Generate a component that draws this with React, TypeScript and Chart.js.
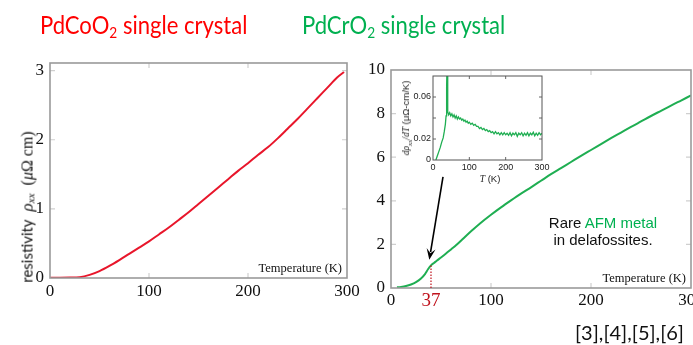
import React, { useEffect, useRef } from "react";
import { Chart, registerables } from "chart.js";

Chart.register(...registerables);

// ---------------- data ----------------
// PdCoO2 resistivity (μΩ cm) vs temperature (K)
const CO_T = [0, 10, 20, 30, 40, 50, 60, 70, 80, 90, 100, 110, 120, 130, 140, 150, 160, 170, 180, 190, 200, 210, 220, 230, 240, 250, 260, 270, 280, 290, 297];
const CO_RHO = [0.005, 0.005, 0.006, 0.012, 0.045, 0.1, 0.175, 0.26, 0.35, 0.44, 0.53, 0.63, 0.73, 0.84, 0.95, 1.07, 1.19, 1.31, 1.43, 1.55, 1.66, 1.78, 1.89, 2.02, 2.16, 2.3, 2.45, 2.6, 2.75, 2.9, 2.98];

// PdCrO2 resistivity (μΩ cm) vs temperature (K)
const CR_T = [6, 10, 15, 20, 25, 30, 34, 37, 40, 43, 46, 50, 55, 60, 65, 70, 76, 82, 89, 100, 110, 120, 130, 140, 150, 160, 170, 180, 190, 200, 210, 220, 230, 240, 250, 260, 270, 280, 290, 300];
const CR_RHO = [0.03, 0.05, 0.09, 0.16, 0.27, 0.44, 0.64, 0.86, 1.04, 1.15, 1.26, 1.4, 1.58, 1.77, 1.96, 2.17, 2.43, 2.68, 2.96, 3.36, 3.7, 4.02, 4.33, 4.62, 4.92, 5.22, 5.5, 5.78, 6.06, 6.33, 6.6, 6.87, 7.13, 7.39, 7.64, 7.89, 8.13, 8.37, 8.6, 8.83];

// inset: dρxx/dT (μΩ-cm/K) vs T (K)
const INSET_T = [8, 12, 16, 20, 24, 28, 31, 34, 36, 37, 38, 39, 40, 41, 43, 46, 49, 52, 55, 58, 61, 64, 67, 70, 73, 76, 79, 82, 85, 88, 91, 94, 97, 100, 104, 108, 112, 116, 120, 124, 128, 132, 136, 140, 144, 148, 152, 156, 160, 164, 168, 172, 176, 180, 184, 188, 192, 196, 200, 204, 208, 212, 216, 220, 224, 228, 232, 236, 240, 244, 248, 252, 256, 260, 264, 268, 272, 276, 280, 284, 288, 292, 296, 300];
const INSET_DRHO = [0, 0.004, 0.008, 0.012, 0.017, 0.021, 0.027, 0.034, 0.042, 0.05, 0.07, 0.1, 0.06, 0.046, 0.043, 0.045, 0.042, 0.044, 0.041, 0.043, 0.04, 0.042, 0.039, 0.041, 0.039, 0.04, 0.038, 0.039, 0.037, 0.038, 0.036, 0.037, 0.035, 0.036, 0.034, 0.035, 0.033, 0.034, 0.032, 0.032, 0.03, 0.031, 0.029, 0.03, 0.028, 0.029, 0.027, 0.028, 0.026, 0.027, 0.025, 0.027, 0.025, 0.026, 0.024, 0.026, 0.024, 0.026, 0.024, 0.0255, 0.0235, 0.026, 0.023, 0.0255, 0.024, 0.026, 0.0225, 0.0255, 0.024, 0.026, 0.023, 0.0255, 0.0235, 0.026, 0.023, 0.0255, 0.024, 0.0265, 0.023, 0.0255, 0.0235, 0.026, 0.024, 0.0255];

const MAIN_X_TICKS = [0, 100, 200, 300];
const CO_Y_TICKS = [0, 1, 2, 3];
const CR_Y_TICKS = [0, 2, 4, 6, 8, 10];
const INSET_X_TICKS = [0, 100, 200, 300];
const INSET_Y_TICKS = [0, 0.02, 0.04, 0.06, 0.08];
const INSET_Y_LABELED = [0, 0.02, 0.06];

const TN_LABEL = "37";
const TN_MARK_T = 40;
const TN_MARK_RHO = 1.05;
const ARROW_FROM = [52, 5.1];
const ARROW_TO = [38.3, 1.3];

// ---------------- styles ----------------
const RED = "#e8162b";
const GREEN = "#1fae52";
const TITLE_RED = "#ff0000";
const TITLE_GREEN = "#00b050";
const DARKRED = "#c0121c";
const SERIF = "'Liberation Serif', 'DejaVu Serif', serif";
const SANS = "'Liberation Sans', Arial, sans-serif";

function framePlugin(cfg: { color: string; width: number; tickColor: string; tickLen: number; tickWidth: number }) {
  return {
    id: "frame",
    afterDatasetsDraw(chart: any) {
      const { ctx, chartArea: a, scales } = chart;
      const xs = scales.x;
      const ys = scales.y;
      ctx.save();
      ctx.strokeStyle = cfg.tickColor;
      ctx.lineWidth = cfg.tickWidth;
      ctx.beginPath();
      for (const t of xs.ticks) {
        const px = xs.getPixelForValue(t.value);
        if (px <= a.left + 1 || px >= a.right - 1) continue;
        ctx.moveTo(px, a.bottom);
        ctx.lineTo(px, a.bottom - cfg.tickLen);
        ctx.moveTo(px, a.top);
        ctx.lineTo(px, a.top + cfg.tickLen);
      }
      for (const t of ys.ticks) {
        const py = ys.getPixelForValue(t.value);
        if (py <= a.top + 1 || py >= a.bottom - 1) continue;
        ctx.moveTo(a.left, py);
        ctx.lineTo(a.left + cfg.tickLen, py);
        ctx.moveTo(a.right, py);
        ctx.lineTo(a.right - cfg.tickLen, py);
      }
      ctx.stroke();
      ctx.strokeStyle = cfg.color;
      ctx.lineWidth = cfg.width;
      ctx.strokeRect(a.left, a.top, a.right - a.left, a.bottom - a.top);
      ctx.restore();
    },
  };
}

function cornerLabelPlugin(text: string) {
  return {
    id: "cornerLabel",
    afterDraw(chart: any) {
      const { ctx, chartArea: a } = chart;
      ctx.save();
      ctx.font = `12.5px ${SERIF}`;
      ctx.fillStyle = "#111";
      ctx.textAlign = "right";
      ctx.textBaseline = "alphabetic";
      ctx.fillText(text, a.right - 5, a.bottom - 6);
      ctx.restore();
    },
  };
}

const tnPlugin = {
  id: "tn",
  afterDraw(chart: any) {
    const { ctx, scales, chartArea: a } = chart;
    const x = scales.x;
    const y = scales.y;
    const px = x.getPixelForValue(TN_MARK_T);
    ctx.save();
    ctx.strokeStyle = DARKRED;
    ctx.lineWidth = 1.2;
    ctx.setLineDash([1.5, 1.5]);
    ctx.beginPath();
    ctx.moveTo(px, y.getPixelForValue(0));
    ctx.lineTo(px, y.getPixelForValue(TN_MARK_RHO));
    ctx.stroke();
    ctx.setLineDash([]);
    ctx.fillStyle = DARKRED;
    ctx.font = `19px ${SERIF}`;
    ctx.textAlign = "center";
    ctx.textBaseline = "middle";
    ctx.fillText(TN_LABEL, px, a.bottom + 13);
    // arrow
    const x0 = x.getPixelForValue(ARROW_FROM[0]);
    const y0 = y.getPixelForValue(ARROW_FROM[1]);
    const x1 = x.getPixelForValue(ARROW_TO[0]);
    const y1 = y.getPixelForValue(ARROW_TO[1]);
    const ang = Math.atan2(y1 - y0, x1 - x0);
    const L = 11;
    const W = 4.5;
    const c = Math.cos(ang);
    const s = Math.sin(ang);
    ctx.strokeStyle = "#000";
    ctx.fillStyle = "#000";
    ctx.lineWidth = 1.6;
    ctx.beginPath();
    ctx.moveTo(x0, y0);
    ctx.lineTo(x1 - c * L * 0.7, y1 - s * L * 0.7);
    ctx.stroke();
    ctx.beginPath();
    ctx.moveTo(x1, y1);
    ctx.lineTo(x1 - c * L - s * W, y1 - s * L + c * W);
    ctx.lineTo(x1 - c * L * 0.6, y1 - s * L * 0.6);
    ctx.lineTo(x1 - c * L + s * W, y1 - s * L - c * W);
    ctx.closePath();
    ctx.fill();
    ctx.restore();
  },
};

function fixedTicks(values: number[]) {
  return (s: any) => {
    s.ticks = values.map((v) => ({ value: v }));
  };
}

function mainChart(
  canvas: HTMLCanvasElement,
  xs: number[],
  ys: number[],
  color: string,
  yMax: number,
  yTicks: number[],
  padding: any,
  xPad: number,
  extraPlugins: any[]
) {
  return new Chart(canvas, {
    type: "line",
    data: {
      datasets: [
        {
          data: xs.map((t, i) => ({ x: t, y: ys[i] })),
          borderColor: color,
          borderWidth: 2,
          pointRadius: 0,
          cubicInterpolationMode: "monotone",
          fill: false,
        },
      ],
    },
    options: {
      responsive: false,
      animation: false,
      events: [],
      layout: { padding },
      plugins: { legend: { display: false }, tooltip: { enabled: false } },
      scales: {
        x: {
          type: "linear",
          min: 0,
          max: 300,
          grid: { display: false, drawTicks: false },
          border: { display: false },
          afterBuildTicks: fixedTicks(MAIN_X_TICKS),
          afterFit: (s: any) => {
            s.height = 30;
          },
          ticks: { font: { family: SERIF, size: 17 }, color: "#111", padding: xPad, maxRotation: 0, autoSkip: false },
        },
        y: {
          type: "linear",
          min: 0,
          max: yMax,
          grid: { display: false, drawTicks: false },
          border: { display: false },
          afterBuildTicks: fixedTicks(yTicks),
          afterFit: (s: any) => {
            s.width = 30;
          },
          ticks: { font: { family: SERIF, size: 17 }, color: "#111", padding: 6, autoSkip: false },
        },
      },
    } as any,
    plugins: [
      framePlugin({ color: "#9a9a9a", width: 1.6, tickColor: "#cfcfcf", tickLen: 5, tickWidth: 1.2 }),
      ...extraPlugins,
    ],
  });
}

export default function App() {
  const leftRef = useRef<HTMLCanvasElement>(null);
  const rightRef = useRef<HTMLCanvasElement>(null);
  const insetRef = useRef<HTMLCanvasElement>(null);

  useEffect(() => {
    const left = mainChart(
      leftRef.current!,
      CO_T,
      CO_RHO,
      RED,
      3.11,
      CO_Y_TICKS,
      { left: 20, right: 346, top: 63, bottom: 37 },
      3,
      [cornerLabelPlugin("Temperature (K)")]
    );
    const right = mainChart(
      rightRef.current!,
      CR_T,
      CR_RHO,
      GREEN,
      10,
      CR_Y_TICKS,
      { left: 361, right: 29, top: 70, bottom: 27 },
      2,
      [cornerLabelPlugin("Temperature (K)"), tnPlugin]
    );
    const inset = new Chart(insetRef.current!, {
      type: "line",
      data: {
        datasets: [
          {
            data: INSET_T.map((t, i) => ({ x: t, y: INSET_DRHO[i] })),
            borderColor: GREEN,
            borderWidth: 1.3,
            pointRadius: 0,
            tension: 0,
            fill: false,
          },
        ],
      },
      options: {
        responsive: false,
        animation: false,
        events: [],
        layout: { padding: { left: 413, right: 151, top: 76, bottom: 165 } },
        plugins: { legend: { display: false }, tooltip: { enabled: false } },
        scales: {
          x: {
            type: "linear",
            min: 0,
            max: 300,
            grid: { display: false, drawTicks: false },
            border: { display: false },
            afterBuildTicks: fixedTicks(INSET_X_TICKS),
            afterFit: (s: any) => {
              s.height = 20;
            },
            ticks: { font: { family: SANS, size: 9 }, color: "#222", padding: 2, maxRotation: 0, autoSkip: false },
          },
          y: {
            type: "linear",
            min: 0,
            max: 0.08,
            grid: { display: false, drawTicks: false },
            border: { display: false },
            afterBuildTicks: fixedTicks(INSET_Y_TICKS),
            afterFit: (s: any) => {
              s.width = 20;
            },
            ticks: {
              font: { family: SANS, size: 9 },
              color: "#222",
              padding: 2,
              autoSkip: false,
              callback: (v: any) => (INSET_Y_LABELED.includes(v) ? String(v) : ""),
            },
          },
        },
      } as any,
      plugins: [framePlugin({ color: "#555", width: 1, tickColor: "#666", tickLen: 3, tickWidth: 1 })],
    });
    return () => {
      left.destroy();
      right.destroy();
      inset.destroy();
    };
  }, []);

  const abs: React.CSSProperties = { position: "absolute", whiteSpace: "nowrap" };
  const subStyle: React.CSSProperties = { fontSize: "0.62em", verticalAlign: "-0.28em", lineHeight: 0 };
  const titleStyle: React.CSSProperties = {
    ...abs,
    top: 8,
    fontFamily: "Lato",
    fontSize: 25.5,
    lineHeight: "32px",
    transform: "scaleX(0.865)",
    transformOrigin: "left center",
  };

  return (
    <div style={{ position: "fixed", left: 0, top: 0, width: 693, height: 345, overflow: "hidden", background: "#fff" }}>
      <canvas ref={leftRef} width={693} height={345} style={{ position: "absolute", left: 0, top: 0 }} />
      <canvas ref={rightRef} width={720} height={345} style={{ position: "absolute", left: 0, top: 0 }} />
      <canvas ref={insetRef} width={693} height={345} style={{ position: "absolute", left: 0, top: 0 }} />

      <div style={{ ...titleStyle, left: 40, color: TITLE_RED }}>
        PdCoO<sub style={subStyle}>2</sub> single crystal
      </div>
      <div style={{ ...titleStyle, left: 302, color: TITLE_GREEN }}>
        PdCrO<sub style={subStyle}>2</sub> single crystal
      </div>

      <div
        style={{
          ...abs,
          left: 27,
          top: 207,
          transform: "translate(-50%, -50%) rotate(-90deg)",
          lineHeight: "14px",
          color: "#111",
        }}
      >
        <span style={{ fontFamily: "Lato", fontSize: 15 }}>resistivity</span>
        <span style={{ fontFamily: SERIF, fontSize: 17, fontStyle: "italic", marginLeft: 8 }}>
          ρ<sub style={{ fontSize: 11, lineHeight: 0, verticalAlign: "-0.2em" }}>xx</sub>
        </span>
        <span style={{ fontFamily: SERIF, fontSize: 16, marginLeft: 8 }}>
          (<i>μ</i>Ω cm)
        </span>
      </div>

      <div
        style={{
          ...abs,
          left: 603,
          top: 214,
          transform: "translateX(-50%)",
          fontFamily: SANS,
          fontSize: 15,
          lineHeight: "17px",
          textAlign: "center",
          color: "#111",
        }}
      >
        Rare <span style={{ color: TITLE_GREEN }}>AFM metal</span>
        <br />
        in delafossites.
      </div>

      <div style={{ ...abs, left: 575, top: 322, fontFamily: "Lato", fontSize: 20, lineHeight: "20px", color: "#111" }}>
        [3],[4],[5],[6]
      </div>

      <div
        style={{
          ...abs,
          left: 490,
          top: 179,
          transform: "translate(-50%, -50%)",
          fontFamily: SANS,
          fontSize: 9.5,
          lineHeight: "11px",
          color: "#222",
        }}
      >
        <i style={{ fontFamily: SERIF }}>T</i> (K)
      </div>
      <div
        style={{
          ...abs,
          left: 406,
          top: 118,
          transform: "translate(-50%, -50%) rotate(-90deg)",
          fontFamily: SANS,
          fontSize: 9.5,
          lineHeight: "11px",
          color: "#222",
        }}
      >
        <span style={{ fontFamily: SERIF, fontStyle: "italic" }}>
          dρ<sub style={{ fontSize: 7, lineHeight: 0 }}>xx</sub>/dT
        </span>{" "}
        (μΩ-cm/K)
      </div>
    </div>
  );
}
